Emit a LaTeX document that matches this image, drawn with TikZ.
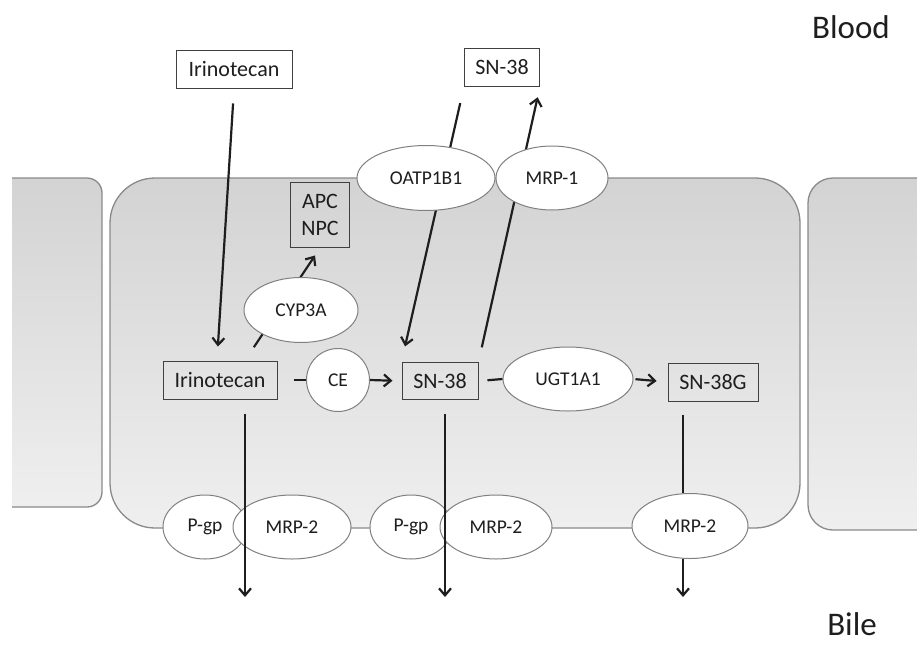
\documentclass[tikz,border=0pt]{standalone}
\usepackage{fontspec}
\setmainfont{Carlito}
\usetikzlibrary{shapes.geometric,arrows.meta}
\definecolor{celltop}{HTML}{D3D3D3}
\definecolor{cellbot}{HTML}{EFEFEF}
\definecolor{cellborder}{HTML}{8A8A8A}
\definecolor{ink}{HTML}{1E1E1E}
\begin{document}
\begin{tikzpicture}[x=1pt,y=-1pt,
  cell/.style={draw=cellborder, line width=1.3pt, top color=celltop, bottom color=cellbot},
  box/.style={draw=ink!85, line width=1pt, inner sep=0pt, text=ink, font=\fontsize{22}{27}\selectfont, align=center},
  prot/.style={ellipse, draw=black!50, line width=1pt, fill=white, inner sep=0pt, text=ink, font=\fontsize{19.5}{22}\selectfont},
  ln/.style={draw=ink, line width=2.2pt},
  arr/.style={ln, -{Straight Barb[length=7pt,width=12pt,line width=2.2pt]}},
  lbl/.style={text=ink, inner sep=0pt, font=\fontsize{33}{38}\selectfont}]
\useasboundingbox (0,0) rectangle (917,645);
\fill[white] (0,0) rectangle (917,645);
% cells
\begin{scope}
  \clip (12,0) rectangle (917,645);
  \draw[cell, rounded corners=15] (-30,178) rectangle (102,507);
  \draw[cell, rounded corners=45] (110,178) rectangle (800,528);
  \draw[cell, rounded corners=25] (808,178) rectangle (960,530);
\end{scope}
% labels
\node[lbl] (blood) at (851,27) {Blood};
\node[lbl] (bile) at (852,624) {Bile};
% boxes
\node[box, fill=white, minimum width=116, minimum height=38] (irb) at (234,69) {Irinotecan};
\node[box, fill=white, minimum width=75, minimum height=38] (snb) at (502,67) {SN-38};
\node[box, minimum width=114, minimum height=38] (iri) at (220,380) {Irinotecan};
\node[box, minimum width=76, minimum height=37] (sn) at (440,381) {SN-38};
\node[box, minimum width=90, minimum height=38] (sng) at (713,382) {SN-38G};
\node[box, minimum width=59, minimum height=65] (apc) at (320,215) {APC\\NPC};
% lines behind transporters
\draw[arr, shorten <=15pt, shorten >=14pt] (irb.south) -- ([xshift=-3pt]iri.north);
\draw[arr, shorten <=17pt, shorten >=16pt] (snb.south west) -- (sn.north west);
\draw[arr, shorten <=15pt, shorten >=11pt] (sn.north east) -- (snb.south east);
\draw[arr, shorten <=16pt, shorten >=9pt] ([xshift=25pt]iri.north) -- (apc.south);
% transporters / enzymes
\node[prot, minimum width=114, minimum height=65] (cyp) at (301,310) {CYP3A};
\node[prot, circle, minimum size=63] (ce) at (338,380) {CE};
\node[prot, minimum width=130, minimum height=64] (ugt) at (568,379) {UGT1A1};
\node[prot, minimum width=138, minimum height=65] (oatp) at (426,178) {OATP1B1};
\node[prot, minimum width=112, minimum height=64] (mrpone) at (552,178) {MRP-1};
\node[prot, minimum width=84, minimum height=64] (pgpa) at (205,527) {P-gp};
\node[prot, minimum width=118, minimum height=64] (mrpa) at (292,527) {MRP-2};
\node[prot, minimum width=82, minimum height=64] (pgpb) at (411,527) {P-gp};
\node[prot, minimum width=112, minimum height=64] (mrpb) at (496,527) {MRP-2};
\node[prot, minimum width=116, minimum height=65] (mrpc) at (690,526) {MRP-2};
% metabolic connectors
\draw[ln, shorten <=16pt] (iri.east) -- (ce.west);
\draw[arr, shorten >=9pt] (ce.east) -- (sn.west);
\draw[ln, shorten <=9pt] (sn.east) -- (ugt.west);
\draw[arr, shorten <=2pt, shorten >=11pt] (ugt.east) -- (sng.west);
% excretion into bile
\coordinate (bileA) at (245,597);
\coordinate (bileB) at (445,597);
\coordinate (bileC) at (683,597);
\draw[arr, shorten <=14pt] ([xshift=25pt]iri.south) -- (bileA);
\draw[arr, shorten <=14pt] ([xshift=5pt]sn.south) -- (bileB);
\draw[ln, shorten <=13pt] ([xshift=-30pt]sng.south) -- ([xshift=-7pt]mrpc.north);
\draw[arr] ([xshift=-7pt]mrpc.south) -- (bileC);
\end{tikzpicture}
\end{document}
